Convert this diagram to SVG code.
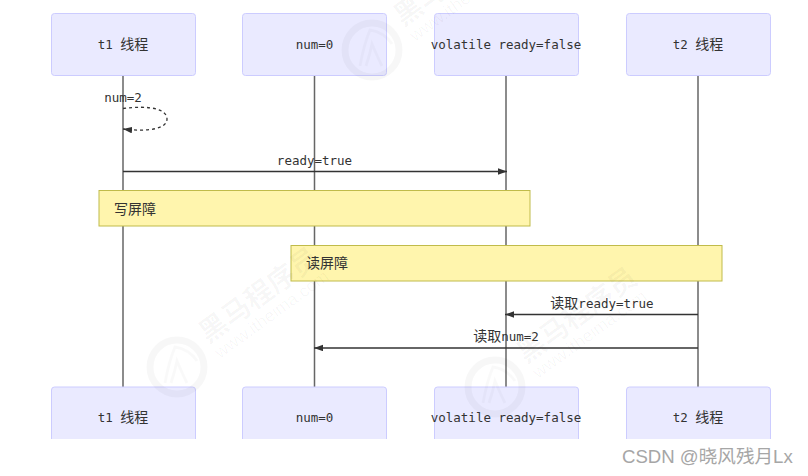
<svg xmlns="http://www.w3.org/2000/svg" width="808" height="476" viewBox="0 0 808 476">
<defs>
<marker id="ah" markerWidth="8" markerHeight="6" refX="7" refY="2.500" orient="auto"><path d="M0,0 L7,2.500 L0,5 Z" fill="#333"/></marker>
<g id="wm">
<circle cx="0" cy="0" r="27" fill="none" stroke="#000" stroke-opacity=".03" stroke-width="7"/>
<path d="M-12,16 Q-8,-6 -2,-20 Q12,-18 20,-6 M-6,16 Q-2,4 0,-6 Q6,8 10,16" fill="none" stroke="#000" stroke-opacity=".025" stroke-width="3"/>
<text class="wm1" transform="translate(31,-23) rotate(-36)">黑马程序员</text>
<text class="wm2" transform="translate(43,-8) rotate(-36)">www.itheima.com</text>
</g>
</defs>
<style>
text{font-family:"DejaVu Sans Mono","Noto Sans CJK SC",monospace;font-size:12.500px;fill:#333}
.h{font-family:"Noto Sans CJK SC",sans-serif;font-size:14px}
.c{text-anchor:middle}
.wm1{font-family:"Noto Sans CJK SC",sans-serif;font-size:28px;font-weight:700;fill:#000;fill-opacity:.035}
.wm2{font-family:"Liberation Sans",sans-serif;font-size:17.500px;fill:#000;fill-opacity:.035}
.actor{fill:#eaeaff;stroke:#ccccff;stroke-width:1}
.life{stroke:#666;stroke-width:1.500;fill:none}
.msg{stroke:#333;stroke-width:1.300;fill:none}
.note{fill:#fff5ad;stroke:#c0bb4a;stroke-width:1}
.csdn{font-family:"Liberation Sans","Noto Sans CJK SC",sans-serif;font-size:18.600px;fill:#a6a6a6}
</style>
<rect width="808" height="476" fill="#fff"/>
<g id="connectors">
<line class="life" x1="123" y1="76" x2="123" y2="387"/>
<line class="life" x1="314.500" y1="76" x2="314.500" y2="387"/>
<line class="life" x1="506" y1="76" x2="506" y2="387"/>
<line class="life" x1="698" y1="76" x2="698" y2="387"/>
<path class="msg" stroke-dasharray="3 3" d="M123,108.500 C150,105 167,109 167,119 C167,129 148,132 123,129" marker-end="url(#ah)"/>
<line class="msg" x1="123" y1="171.500" x2="507" y2="171.500" marker-end="url(#ah)"/>
<line class="msg" x1="698" y1="314.500" x2="505" y2="314.500" marker-end="url(#ah)"/>
<line class="msg" x1="698" y1="348" x2="314" y2="348" marker-end="url(#ah)"/>
</g>
<g id="actor-t1-top"><rect class="actor" x="51.500" y="13.500" width="144" height="62" rx="3"/><text class="c" x="123" y="49">t1 <tspan class="h">线程</tspan></text></g>
<g id="actor-num-top"><rect class="actor" x="242.500" y="13.500" width="144" height="62" rx="3"/><text class="c" x="314.500" y="49">num=0</text></g>
<g id="actor-ready-top"><rect class="actor" x="434.500" y="13.500" width="144" height="62" rx="3"/><text class="c" x="506" y="49">volatile ready=false</text></g>
<g id="actor-t2-top"><rect class="actor" x="626.500" y="13.500" width="144" height="62" rx="3"/><text class="c" x="698" y="49">t2 <tspan class="h">线程</tspan></text></g>
<g id="labels">
<text class="c" x="123" y="102">num=2</text>
<text class="c" x="314.500" y="165">ready=true</text>
<text class="c" x="602" y="308"><tspan class="h">读取</tspan>ready=true</text>
<text class="c" x="506" y="341"><tspan class="h">读取</tspan>num=2</text>
</g>
<g id="note-write"><rect class="note" x="99" y="190.500" width="431" height="35.500"/><text class="h" x="114" y="214">写屏障</text></g>
<g id="note-read"><rect class="note" x="291" y="245.500" width="431" height="35.500"/><text class="h" x="306" y="268">读屏障</text></g>
<g id="actor-t1-bottom"><rect class="actor" x="51.500" y="387" width="144" height="62" rx="3"/><text class="c" x="123" y="422">t1 <tspan class="h">线程</tspan></text></g>
<g id="actor-num-bottom"><rect class="actor" x="242.500" y="387" width="144" height="62" rx="3"/><text class="c" x="314.500" y="422">num=0</text></g>
<g id="actor-ready-bottom"><rect class="actor" x="434.500" y="387" width="144" height="62" rx="3"/><text class="c" x="506" y="422">volatile ready=false</text></g>
<g id="actor-t2-bottom"><rect class="actor" x="626.500" y="387" width="144" height="62" rx="3"/><text class="c" x="698" y="422">t2 <tspan class="h">线程</tspan></text></g>
<g id="watermarks">
<use href="#wm" x="372" y="50"/>
<use href="#wm" x="177" y="367"/>
<use href="#wm" x="495" y="387"/>
</g>
<rect x="0" y="439" width="808" height="37" fill="#fff"/>
<text class="csdn" x="622" y="463">CSDN @晓风残月Lx</text>
</svg>
